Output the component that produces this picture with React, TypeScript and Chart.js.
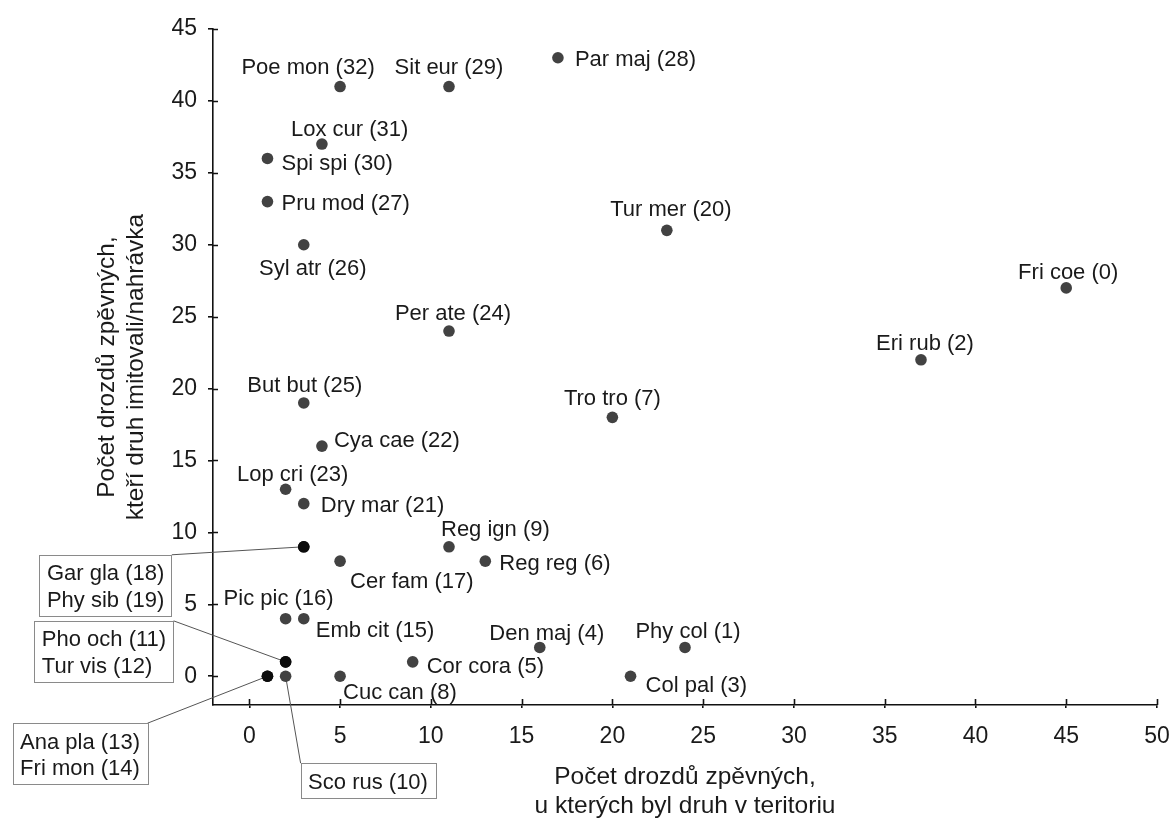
import React, { useEffect, useRef } from 'react';
import { Chart, registerables } from 'chart.js';

Chart.register(...registerables);

// ---- data (index = species code shown in brackets) ----
const species = [
  'Fri coe', 'Phy col', 'Eri rub', 'Col pal', 'Den maj', 'Cor cora', 'Reg reg', 'Tro tro',
  'Cuc can', 'Reg ign', 'Sco rus', 'Pho och', 'Tur vis', 'Ana pla', 'Fri mon', 'Emb cit',
  'Pic pic', 'Cer fam', 'Gar gla', 'Phy sib', 'Tur mer', 'Dry mar', 'Cya cae', 'Lop cri',
  'Per ate', 'But but', 'Syl atr', 'Pru mod', 'Par maj', 'Sit eur', 'Spi spi', 'Lox cur',
  'Poe mon',
];
const territoryCounts = [
  45, 24, 37, 21, 16, 9, 13, 20,
  5, 11, 2, 2, 2, 1, 1, 3,
  2, 5, 3, 3, 23, 3, 4, 2,
  11, 3, 3, 1, 17, 11, 1, 4,
  5,
];
const imitationCounts = [
  27, 2, 22, 0, 2, 1, 8, 18,
  0, 9, 0, 1, 1, 0, 0, 4,
  4, 8, 9, 9, 31, 12, 16, 13,
  24, 19, 30, 33, 43, 41, 36, 37,
  41,
];
const xTicks = [0, 5, 10, 15, 20, 25, 30, 35, 40, 45, 50];
const yTicks = [0, 5, 10, 15, 20, 25, 30, 35, 40, 45];
const xTitle = ['Počet drozdů zpěvných,', 'u kterých byl druh v teritoriu'];
const yTitle = ['Počet drozdů zpěvných,', 'kteří druh imitovali/nahrávka'];

// ---- label layout (pixel offsets from the point) ----
const labelPlacement: Record<number, [CanvasTextAlign, number, number]> = {
  0: ['center', 2, -17],
  1: ['center', 3, -18],
  2: ['center', 4, -18],
  3: ['left', 15, 8],
  4: ['center', 7, -16],
  5: ['left', 14, 3],
  6: ['left', 14, 1],
  7: ['center', 0, -20],
  8: ['left', 3, 15],
  9: ['left', -8, -19],
  15: ['left', 12, 10],
  16: ['center', -7, -22],
  17: ['left', 10, 19],
  20: ['center', 4, -22],
  21: ['left', 17, 0],
  22: ['left', 12, -7],
  23: ['center', 7, -16],
  24: ['center', 4, -19],
  25: ['center', 1, -19],
  26: ['center', 9, 22],
  27: ['left', 14, 0],
  28: ['left', 17, 0],
  29: ['center', 0, -21],
  30: ['left', 14, 3],
  31: ['left', -31, -16],
  32: ['center', -32, -21],
};

type Callout = { codes: number[]; corner: 'tr' | 'tl'; dx: number; dy: number };
const callouts: Callout[] = [
  { codes: [18, 19], corner: 'tr', dx: -132, dy: 8 },
  { codes: [11, 12], corner: 'tr', dx: -112, dy: -41 },
  { codes: [13, 14], corner: 'tr', dx: -120, dy: 47 },
  { codes: [10], corner: 'tl', dx: 15, dy: 87 },
];

const FONT = "'Liberation Sans', Arial, Helvetica, sans-serif";
const TEXT = '#1a1a1a';
const AXIS = '#111111';
const LABEL_FONT = `22px ${FONT}`;

const calloutCodes = new Set(callouts.flatMap((c) => c.codes));
const pointColors = territoryCounts.map((xv, i) => {
  const shared = territoryCounts.some((x2, j) => j !== i && x2 === xv && imitationCounts[j] === imitationCounts[i]);
  return shared ? '#0c0c0c' : '#424242';
});

const annotatePlugin = {
  id: 'annotate',
  beforeDatasetsDraw(chart: any) {
    const { ctx } = chart;
    const xs = chart.scales.x;
    const ys = chart.scales.y;
    ctx.save();
    ctx.strokeStyle = '#555555';
    ctx.lineWidth = 1;
    for (const c of callouts) {
      const i = c.codes[0];
      const px = xs.getPixelForValue(territoryCounts[i]);
      const py = ys.getPixelForValue(imitationCounts[i]);
      ctx.beginPath();
      ctx.moveTo(px + c.dx, py + c.dy);
      ctx.lineTo(px, py);
      ctx.stroke();
    }
    ctx.restore();
  },
  afterDatasetsDraw(chart: any) {
    const { ctx, chartArea } = chart;
    const xs = chart.scales.x;
    const ys = chart.scales.y;
    ctx.save();
    // inward halves of the tick marks
    ctx.strokeStyle = AXIS;
    ctx.lineWidth = 1.6;
    ctx.beginPath();
    for (const v of xTicks) {
      const p = Math.round(xs.getPixelForValue(v)) + 0.5;
      ctx.moveTo(p, chartArea.bottom);
      ctx.lineTo(p, chartArea.bottom - 6);
    }
    for (const v of yTicks) {
      const p = Math.round(ys.getPixelForValue(v)) + 0.5;
      ctx.moveTo(chartArea.left, p);
      ctx.lineTo(chartArea.left + 5, p);
    }
    ctx.stroke();

    // point labels
    ctx.font = LABEL_FONT;
    ctx.fillStyle = TEXT;
    ctx.textBaseline = 'middle';
    species.forEach((name, i) => {
      if (calloutCodes.has(i)) return;
      const pl = labelPlacement[i];
      if (!pl) return;
      const px = xs.getPixelForValue(territoryCounts[i]);
      const py = ys.getPixelForValue(imitationCounts[i]);
      ctx.textAlign = pl[0];
      ctx.fillText(`${name} (${i})`, px + pl[1], py + pl[2] + 2);
    });

    // callout boxes
    ctx.textAlign = 'left';
    for (const c of callouts) {
      const i = c.codes[0];
      const px = xs.getPixelForValue(territoryCounts[i]);
      const py = ys.getPixelForValue(imitationCounts[i]);
      const lines = c.codes.map((k) => `${species[k]} (${k})`);
      const w = Math.max(...lines.map((l) => ctx.measureText(l).width)) + 15;
      const h = 8 + 26.5 * lines.length;
      const cx = px + c.dx;
      const top = py + c.dy;
      const left = c.corner === 'tr' ? cx - w : cx;
      ctx.fillStyle = '#ffffff';
      ctx.fillRect(left, top, w, h);
      ctx.strokeStyle = '#8a8a8a';
      ctx.lineWidth = 1;
      ctx.strokeRect(Math.round(left) + 0.5, Math.round(top) + 0.5, Math.round(w), Math.round(h));
      ctx.fillStyle = TEXT;
      lines.forEach((l, k) => {
        ctx.fillText(l, left + 7.5, top + 4 + 13.25 + 26.5 * k + 2);
      });
    }
    ctx.restore();
  },
};

export default function App() {
  const canvasRef = useRef<HTMLCanvasElement | null>(null);

  useEffect(() => {
    if (!canvasRef.current) return;
    const data = territoryCounts.map((xv, i) => ({ x: xv, y: imitationCounts[i] }));
    const chart = new Chart(canvasRef.current, {
      type: 'scatter',
      data: {
        datasets: [
          {
            label: 'druhy',
            data,
            pointRadius: 5.8,
            pointHoverRadius: 5.8,
            pointBorderWidth: 0,
            pointBackgroundColor: pointColors,
            pointBorderColor: pointColors,
          },
        ],
      },
      options: {
        responsive: false,
        animation: false,
        events: [],
        layout: { padding: { left: 0, top: 29, right: 17, bottom: 0 } },
        plugins: {
          legend: { display: false },
          tooltip: { enabled: false },
        },
        scales: {
          x: {
            type: 'linear',
            min: -2,
            max: 50,
            afterBuildTicks: (axis: any) => {
              axis.ticks = xTicks.map((v) => ({ value: v }));
            },
            afterFit: (axis: any) => {
              axis.height = 113;
              axis.paddingLeft = 0;
              axis.paddingRight = 0;
            },
            border: { display: true, color: AXIS, width: 1.6 },
            grid: { display: true, drawOnChartArea: false, drawTicks: true, tickLength: 3, color: AXIS, lineWidth: 1.6 },
            ticks: {
              color: TEXT,
              padding: 15,
              maxRotation: 0,
              autoSkip: false,
              font: { family: FONT, size: 23 },
            },
            title: {
              display: true,
              text: xTitle,
              color: TEXT,
              font: { family: FONT, size: 24.5, lineHeight: 1.184 },
              padding: { top: 0, bottom: -3 },
            },
          },
          y: {
            type: 'linear',
            min: -2,
            max: 45,
            afterBuildTicks: (axis: any) => {
              axis.ticks = yTicks.map((v) => ({ value: v }));
            },
            afterFit: (axis: any) => {
              axis.width = 213;
              axis.paddingTop = 0;
              axis.paddingBottom = 0;
            },
            border: { display: true, color: AXIS, width: 1.6 },
            grid: { display: true, drawOnChartArea: false, drawTicks: true, tickLength: 5, color: AXIS, lineWidth: 1.6 },
            ticks: {
              color: TEXT,
              padding: 11,
              autoSkip: false,
              font: { family: FONT, size: 23 },
            },
            title: {
              display: true,
              text: yTitle,
              color: TEXT,
              font: { family: FONT, size: 24.5, lineHeight: 1.184 },
              padding: { top: 93, bottom: 0 },
            },
          },
        },
      },
      plugins: [annotatePlugin],
    });
    return () => chart.destroy();
  }, []);

  return (
    <div style={{ position: 'fixed', left: 0, top: 0, width: 1174, height: 818, background: '#ffffff' }}>
      <canvas ref={canvasRef} width={1174} height={818} style={{ display: 'block' }} />
    </div>
  );
}
